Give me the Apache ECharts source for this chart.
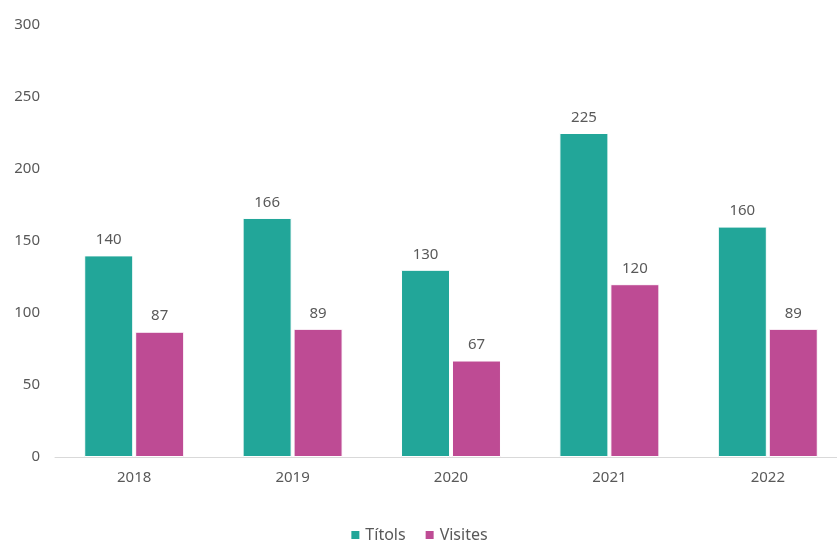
<!DOCTYPE html>
<html>
<head>
<meta charset="utf-8">
<script src="https://cdn.jsdelivr.net/npm/echarts@6/dist/echarts.min.js"></script>
<style>
  html, body { margin: 0; padding: 0; background: #fff; }
  #main { width: 837px; height: 543px; }
</style>
</head>
<body>
<div id="main"></div>
<script>
var years = ['2018', '2019', '2020', '2021', '2022'];
var titols = [140, 166, 130, 225, 160];
var visites = [87, 89, 67, 120, 89];

var textColor = '#595959';
var fontFam = '"Noto Sans", sans-serif';

var myChart = echarts.init(document.getElementById('main'));
myChart.setOption({
  animation: false,
  textStyle: { fontFamily: fontFam, color: textColor },
  legend: {
    data: ['Títols', 'Visites'],
    bottom: -5,
    left: 'center',
    icon: 'rect',
    itemWidth: 10,
    itemHeight: 10,
    itemGap: 18,
    textStyle: { fontSize: 16, color: textColor, fontFamily: fontFam }
  },
  grid: {
    left: 55,
    right: -10,
    top: 25,
    bottom: 86,
    outerBoundsMode: 'none'
  },
  xAxis: {
    type: 'category',
    data: years,
    axisLine: { lineStyle: { color: '#d9d9d9', width: 1 } },
    axisTick: { show: false },
    axisLabel: { color: textColor, fontSize: 15, margin: 13 }
  },
  yAxis: {
    type: 'value',
    min: 0,
    max: 300,
    interval: 50,
    splitLine: { show: false },
    axisLabel: { color: textColor, fontSize: 15, margin: 15 }
  },
  series: [
    {
      name: 'Títols',
      type: 'bar',
      data: titols,
      barWidth: 49,
      barGap: '4%',
      itemStyle: { color: '#22a699', borderColor: '#fff', borderWidth: 1 },
      label: { show: true, position: 'top', distance: 8, color: textColor, fontSize: 15 }
    },
    {
      name: 'Visites',
      type: 'bar',
      data: visites,
      barWidth: 49,
      itemStyle: { color: '#be4b94', borderColor: '#fff', borderWidth: 1 },
      label: { show: true, position: 'top', distance: 8, color: textColor, fontSize: 15 }
    }
  ]
});
</script>
</body>
</html>
